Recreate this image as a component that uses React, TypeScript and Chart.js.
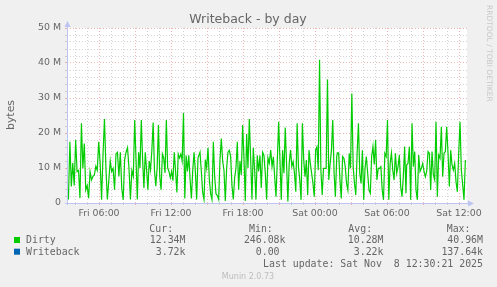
import React, { useEffect, useRef } from "react";
import { Chart, registerables } from "chart.js";

Chart.register(...registerables);

const W = 497;
const H = 287;

// Time axis in hours since Fri 00:00
const X_MIN = 10 / 3; // Fri 03:20
const X_MAX = 110 / 3; // Sat 12:40
const tickHours = [6, 12, 18, 24, 30, 36];
const tickLabels = ["Fri 06:00", "Fri 12:00", "Fri 18:00", "Sat 00:00", "Sat 06:00", "Sat 12:00"];

// Y axis in millions of bytes
const Y_MAX = 50;
const yLabelValues = [0, 10, 20, 30, 40, 50];
const yLabels = ["0", "10 M", "20 M", "30 M", "40 M", "50 M"];

// Dirty (M bytes), read segment by segment
const dirtySeg1 = [5.5, 1.0, 17.5, 4.7, 11.4, 5.0, 18.0, 9.0, 9.3, 1.4, 22.8, 9.9, 17.0, 3.7, 5.0, 1.4, 9.0, 6.6, 7.6, 8.0, 10.5, 9.3, 17.5, 11.4, 0.9, 14.0, 24.0, 10.0, 1.0, 6.4, 12.0, 9.0, 9.9, 3.8, 14.0, 14.5, 7.6, 14.5, 4.2, 0.9, 12.4, 14.5, 15.8, 10.0, 1.0, 9.3, 7.6];
const dirtySeg2 = [23.7, 12.4, 1.0, 14.5, 10.0, 23.7, 12.4, 4.3, 14.5, 9.5, 3.8, 12.0, 9.5, 15.0, 23.0, 9.3, 4.8, 10.0, 22.3, 7.6, 3.8, 14.0, 12.9, 8.6, 23.7, 10.0, 9.0, 7.2, 9.0, 6.4, 14.5, 9.0, 3.0, 14.0, 12.9, 14.0, 12.0, 25.7, 1.3, 13.6, 9.0, 13.6, 6.7, 1.3, 9.3, 14.5, 9.0, 1.0, 12.9];
const dirtySeg3 = [14.5, 9.0, 3.0, 1.0, 12.4, 10.0, 15.8, 6.7, 2.6, 1.0, 17.5, 7.6, 2.6, 2.1, 1.0, 12.4, 18.4, 12.0, 9.3, 0.6, 10.0, 14.5, 15.0, 13.3, 5.0, 1.0, 7.2, 10.0, 17.5, 3.8, 12.0, 8.0, 22.3, 12.9, 0.6, 19.7, 10.0, 24.0, 12.9, 1.0, 15.8, 9.5, 1.0, 13.6, 9.0, 13.6, 4.3, 14.5, 13.6, 8.6, 1.0, 12.9, 11.4];
const dirtySeg4 = [15.1, 10.4, 13.2, 7.5, 1.8, 12.3, 23.2, 12.3, 0.9, 15.1, 8.5, 21.6, 11.3, 0.4, 11.3, 15.1, 10.4, 11.8, 8.5, 3.2, 22.8, 10.4, 6.6, 0.9, 22.8, 12.3, 7.5, 12.3, 2.3, 15.1, 11.3, 8.5, 5.6, 1.8, 15.1, 16.0, 9.4, 40.9, 9.4, 2.3, 9.9, 9.9, 9.9, 35.3, 6.6, 11.3, 15.1, 23.7, 8.5, 1.8, 13.2];
const dirtySeg5 = [14.3, 14.3, 6.6, 1.3, 13.3, 12.8, 10.4, 5.6, 3.7, 14.2, 9.9, 31.3, 10.4, 5.6, 2.3, 14.3, 22.8, 8.5, 5.6, 15.1, 0.9, 9.9, 13.3, 8.5, 3.7, 2.8, 13.3, 16.1, 11.0, 18.0, 6.6, 9.9, 9.9, 10.4, 3.7, 0.9, 14.2, 13.3, 23.7, 0.9, 11.3, 14.3, 9.4, 6.6, 14.2, 8.5, 10.4, 13.7, 4.7, 1.8, 7.5, 16.1, 2.8];
const dirtySeg6 = [10.9, 11.3, 16.1, 0.9, 22.8, 10.4, 14.7, 3.7, 0.9, 13.7, 9.0, 9.9, 11.3, 9.0, 7.5, 9.0, 14.7, 14.2, 3.7, 14.7, 8.0, 6.6, 23.2, 1.8, 13.7, 12.8, 21.8, 7.5, 14.2, 14.7, 21.8, 14.2, 4.7, 15.1, 10.9, 9.4, 11.3, 6.1, 3.2, 14.2, 23.2, 9.4, 5.1, 0.9, 12.3];
// time span (hours) covered by each segment
const segStart = [3.334, 8.975, 14.417, 20.31, 25.86, 31.64];
const segEnd = [8.858, 14.25, 20.19, 25.81, 31.58, 36.53];

const legendNames = ["Dirty", "Writeback"];
const legendColors = ["#00cc00", "#0066b3"];
const curVals = ["12.34M", "3.72k"];
const minVals = ["246.08k", "0.00 "];
const avgVals = ["10.28M", "3.22k"];
const maxVals = ["40.96M", "137.64k"];
const lastUpdate = "Last update: Sat Nov  8 12:30:21 2025";

const MAJOR = "rgba(228,120,120,0.55)";
const MINOR = "rgba(175,175,175,0.55)";
const AXIS = "#bcc4f2";
const FONT_COLOR = "#666";

export default function App() {
  const ref = useRef<HTMLCanvasElement | null>(null);

  useEffect(() => {
    const canvas = ref.current;
    if (!canvas) return;
    const segs = [dirtySeg1, dirtySeg2, dirtySeg3, dirtySeg4, dirtySeg5, dirtySeg6];
    const points = segs.flatMap((seg, i) =>
      seg.map((v, j) => ({
        x: segStart[i] + ((segEnd[i] - segStart[i]) * j) / (seg.length - 1),
        y: v,
      }))
    );

    const bgPlugin = {
      id: "bg",
      beforeDraw(chart: any) {
        const { ctx, chartArea: a } = chart;
        ctx.save();
        ctx.fillStyle = "#f0f0f0";
        ctx.fillRect(0, 0, W, H);
        ctx.fillStyle = "#ffffff";
        ctx.fillRect(a.left, a.top, a.right - a.left, a.bottom - a.top);
        ctx.restore();
      },
    };

    const decor = {
      id: "decor",
      afterDraw(chart: any) {
        const { ctx, chartArea: a } = chart;
        ctx.save();
        // axes
        ctx.strokeStyle = AXIS;
        ctx.fillStyle = AXIS;
        ctx.lineWidth = 1;
        ctx.beginPath();
        ctx.moveTo(a.left + 0.5, a.bottom + 2);
        ctx.lineTo(a.left + 0.5, a.top - 4);
        ctx.moveTo(a.left - 2, a.bottom + 0.5);
        ctx.lineTo(a.right + 4, a.bottom + 0.5);
        ctx.stroke();
        ctx.beginPath();
        ctx.moveTo(a.left + 0.5, a.top - 7);
        ctx.lineTo(a.left - 2.5, a.top - 1);
        ctx.lineTo(a.left + 3.5, a.top - 1);
        ctx.closePath();
        ctx.fill();
        ctx.beginPath();
        ctx.moveTo(a.right + 7, a.bottom + 0.5);
        ctx.lineTo(a.right + 1, a.bottom - 2.5);
        ctx.lineTo(a.right + 1, a.bottom + 3.5);
        ctx.closePath();
        ctx.fill();

        // title
        ctx.fillStyle = FONT_COLOR;
        ctx.font = "12.5px 'DejaVu Sans'";
        ctx.textAlign = "center";
        ctx.textBaseline = "alphabetic";
        ctx.fillText("Writeback - by day", 248, 22.5);

        // y title
        ctx.save();
        ctx.translate(13.5, 115);
        ctx.rotate(-Math.PI / 2);
        ctx.font = "10.9px 'DejaVu Sans'";
        ctx.textAlign = "center";
        ctx.fillText("bytes", 0, 0);
        ctx.restore();

        // rrdtool credit
        ctx.save();
        ctx.translate(486.5, 5);
        ctx.rotate(Math.PI / 2);
        ctx.font = "7.5px 'DejaVu Sans'";
        ctx.fillStyle = "#c8c8c8";
        ctx.textAlign = "left";
        ctx.fillText("RRDTOOL / TOBI OETIKER", 0, 0);
        ctx.restore();

        // legend
        const mono = "9.9px 'DejaVu Sans Mono'";
        ctx.font = mono;
        ctx.fillStyle = FONT_COLOR;
        ctx.textAlign = "left";
        ctx.fillText("Cur:", 149.3, 231.5);
        ctx.fillText("Min:", 249, 231.5);
        ctx.fillText("Avg:", 348.3, 231.5);
        ctx.fillText("Max:", 446.7, 231.5);
        const rows = [243.3, 255];
        legendNames.forEach((name, i) => {
          const by = rows[i];
          ctx.fillStyle = legendColors[i];
          ctx.fillRect(14, by - 6.3, 6, 6);
          ctx.fillStyle = FONT_COLOR;
          ctx.textAlign = "left";
          ctx.fillText(name, 26, by);
          ctx.textAlign = "right";
          ctx.fillText(curVals[i], 185.5, by);
          ctx.fillText(minVals[i], 285.5, by);
          ctx.fillText(avgVals[i], 383.5, by);
          ctx.fillText(maxVals[i], 483, by);
        });
        ctx.textAlign = "right";
        ctx.fillText(lastUpdate, 483, 267);

        ctx.font = "8px 'DejaVu Sans'";
        ctx.fillStyle = "#bcbcbc";
        ctx.textAlign = "center";
        ctx.fillText("Munin 2.0.73", 248, 279);
        ctx.restore();
      },
    };

    const chart = new Chart(canvas, {
      type: "line",
      data: {
        datasets: [
          {
            label: legendNames[0],
            data: points,
            borderColor: legendColors[0],
            borderWidth: 1.2,
            pointRadius: 0,
            tension: 0,
            fill: false,
          },
        ],
      },
      options: {
        animation: false,
        responsive: false,
        devicePixelRatio: 1,
        events: [],
        layout: { padding: { top: 28, right: 30, left: 0, bottom: 0 } },
        plugins: {
          legend: { display: false },
          tooltip: { enabled: false },
          title: { display: false },
        },
        scales: {
          x: {
            type: "linear",
            min: X_MIN,
            max: X_MAX,
            afterBuildTicks: (s: any) => {
              const t: any[] = [];
              for (let h = Math.ceil(X_MIN); h <= Math.floor(X_MAX); h++) t.push({ value: h });
              s.ticks = t;
            },
            afterFit: (s: any) => {
              s.height = H - 203;
            },
            grid: {
              color: (c: any) => (c.tick && c.tick.value % 3 === 0 ? MAJOR : MINOR),
              tickColor: (c: any) => (c.tick && c.tick.value % 3 === 0 ? MAJOR : MINOR),
              lineWidth: 1,
              drawTicks: true,
              tickLength: 2,
            },
            border: { display: false, dash: [1, 2] },
            ticks: {
              autoSkip: false,
              maxRotation: 0,
              minRotation: 0,
              padding: 3,
              color: FONT_COLOR,
              font: { family: "'DejaVu Sans'", size: 9.4 },
              callback: (v: any) => {
                const i = tickHours.indexOf(Number(v));
                return i >= 0 ? tickLabels[i] : "";
              },
            },
          },
          y: {
            min: 0,
            max: Y_MAX,
            afterBuildTicks: (s: any) => {
              const t: any[] = [];
              for (let v = 0; v <= Y_MAX; v += 2) t.push({ value: v });
              s.ticks = t;
            },
            afterFit: (s: any) => {
              s.width = 67;
            },
            grid: {
              color: (c: any) => (c.tick && c.tick.value % 10 === 0 ? MAJOR : MINOR),
              tickColor: (c: any) => (c.tick && c.tick.value % 10 === 0 ? MAJOR : MINOR),
              lineWidth: 1,
              drawTicks: true,
              tickLength: 2,
            },
            border: { display: false, dash: [1, 2] },
            ticks: {
              autoSkip: false,
              padding: 4,
              color: FONT_COLOR,
              font: { family: "'DejaVu Sans'", size: 9.4 },
              callback: (v: any) => {
                const i = yLabelValues.indexOf(Number(v));
                return i >= 0 ? yLabels[i] : "";
              },
            },
          },
        },
      },
      plugins: [bgPlugin, decor],
    } as any);

    return () => chart.destroy();
  }, []);

  return (
    <div style={{ position: "fixed", left: 0, top: 0, width: W, height: H }}>
      <canvas ref={ref} width={W} height={H} style={{ width: W, height: H, display: "block" }} />
    </div>
  );
}
